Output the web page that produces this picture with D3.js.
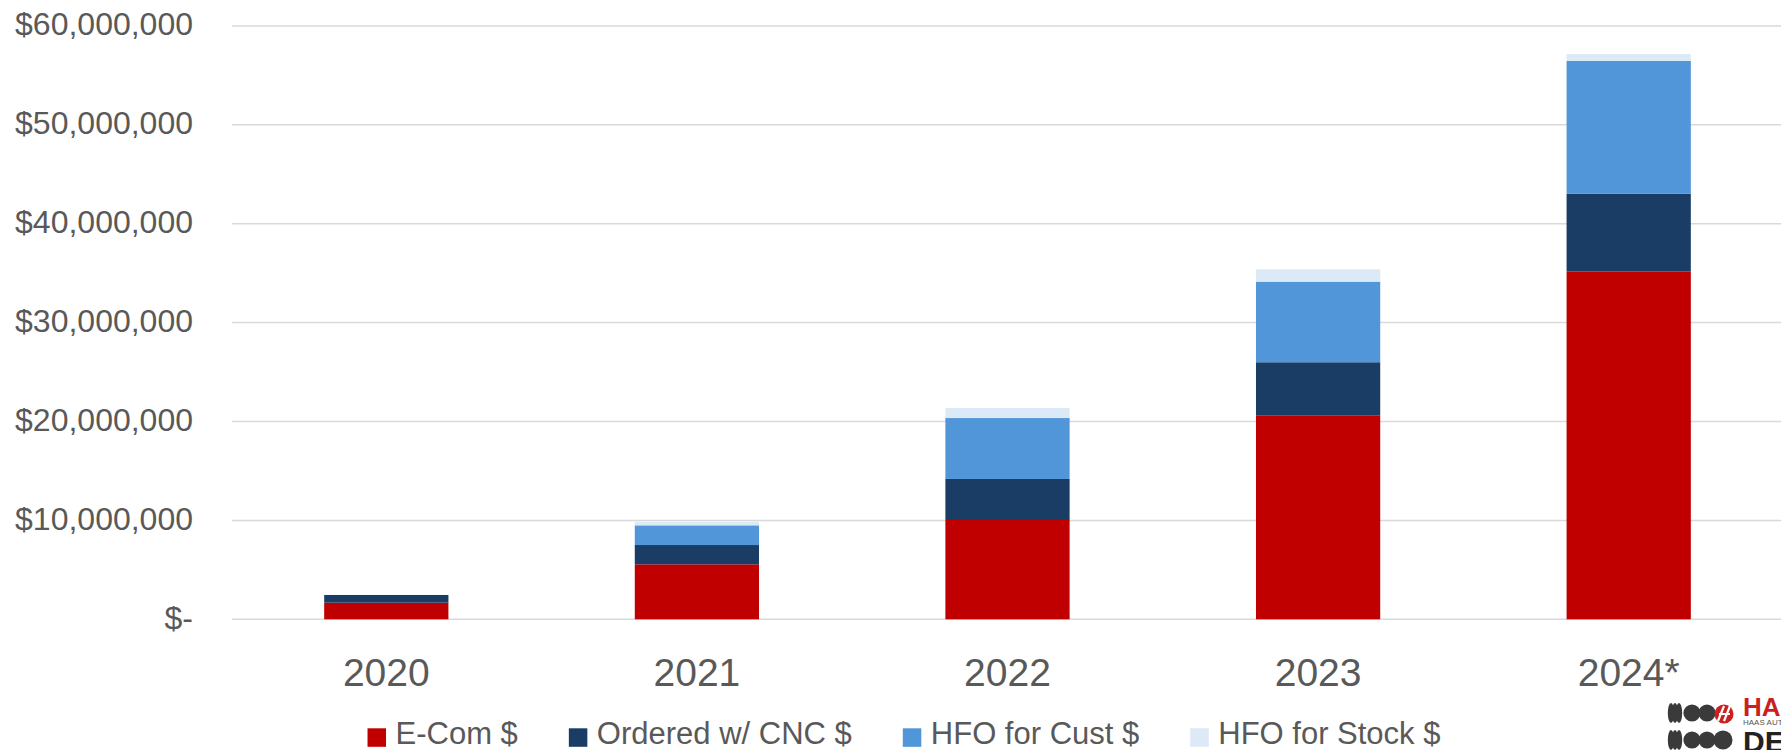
<!DOCTYPE html>
<html>
<head>
<meta charset="utf-8">
<script src="https://cdn.jsdelivr.net/npm/d3@7"></script>
<style>
  html, body { margin: 0; padding: 0; background: #fff; }
  svg { display: block; font-family: "Liberation Sans", Arial, sans-serif; }
</style>
</head>
<body>
<svg id="chart" width="1781" height="750"></svg>
<script>
// Yearly revenue by channel (USD)
const years    = ["2020", "2021", "2022", "2023", "2024*"];
const ecom     = [1680000, 5560000, 10040000, 20630000, 35150000];
const ordered  = [780000, 1950000, 4150000, 5360000, 7880000];
const hfoCust  = [0, 1990000, 6160000, 8150000, 13420000];
const hfoStock = [0, 370000, 1020000, 1250000, 710000];

const seriesNames = ["E-Com $", "Ordered w/ CNC $", "HFO for Cust $", "HFO for Stock $"];
const seriesKeys  = ["ecom", "ordered", "hfoCust", "hfoStock"];
const colors      = ["#C00000", "#193D64", "#5096D9", "#DCE9F6"];
const yTicks      = [0, 10000000, 20000000, 30000000, 40000000, 50000000, 60000000];

const rows = years.map((y, i) => ({
  year: y, ecom: ecom[i], ordered: ordered[i], hfoCust: hfoCust[i], hfoStock: hfoStock[i]
}));

const svg = d3.select("#chart");
const textColor = "#595959";

const x = d3.scaleBand().domain(years).range([231, 1784]).paddingInner(0.6).paddingOuter(0.3);
const y = d3.scaleLinear().domain([0, 60000000]).range([619.3, 25.9]);

const money = d3.format(",");
const tickLabel = v => v === 0 ? "$-" : "$" + money(v);

// horizontal gridlines
svg.append("g").selectAll("line").data(yTicks).join("line")
  .attr("x1", 232).attr("x2", 1781)
  .attr("y1", d => y(d)).attr("y2", d => y(d))
  .attr("stroke", "#d9d9d9").attr("stroke-width", 1.5);

// value axis labels
svg.append("g").selectAll("text").data(yTicks).join("text")
  .attr("x", 193).attr("y", d => y(d) + 9.5)
  .attr("text-anchor", "end")
  .attr("font-size", 32).attr("fill", textColor)
  .text(tickLabel);

// stacked bars
const stacked = d3.stack().keys(seriesKeys)(rows);
svg.append("g").selectAll("g").data(stacked).join("g")
  .attr("fill", (d, i) => colors[i])
  .selectAll("rect").data(d => d).join("rect")
  .attr("x", d => x(d.data.year))
  .attr("width", x.bandwidth())
  .attr("y", d => y(d[1]))
  .attr("height", d => Math.max(0, y(d[0]) - y(d[1])));

// category labels
svg.append("g").selectAll("text").data(years).join("text")
  .attr("x", d => x(d) + x.bandwidth() / 2)
  .attr("y", 686)
  .attr("text-anchor", "middle")
  .attr("font-size", 39).attr("fill", textColor)
  .text(d => d);

// legend, laid out left to right and centred
const legend = svg.append("g");
let cursor = 0;
seriesNames.forEach((name, i) => {
  const item = legend.append("g").attr("transform", `translate(${cursor},0)`);
  item.append("rect").attr("x", 0).attr("y", 728.3).attr("width", 18.5).attr("height", 18.5).attr("fill", colors[i]);
  const t = item.append("text").attr("x", 28).attr("y", 744)
    .attr("font-size", 31).attr("fill", textColor).text(name);
  cursor += 28 + t.node().getComputedTextLength() + 51;
});
const legendWidth = cursor - 51;
legend.attr("transform", `translate(${904 - legendWidth / 2},0)`);

// company logo in the bottom-right corner
const logo = svg.append("g");
[1671, 1675, 1679].forEach(cx => {
  [713, 740].forEach(cy => {
    logo.append("ellipse").attr("cx", cx).attr("cy", cy).attr("rx", 3.2).attr("ry", 10).attr("fill", "#3a3a3a");
  });
});
[1692, 1707].forEach(cx => {
  [713, 740].forEach(cy => {
    logo.append("circle").attr("cx", cx).attr("cy", cy).attr("r", 8.6).attr("fill", "#3a3a3a");
  });
});
logo.append("circle").attr("cx", 1723).attr("cy", 740).attr("r", 9.5).attr("fill", "#3a3a3a");
logo.append("circle").attr("cx", 1724).attr("cy", 714).attr("r", 9.5).attr("fill", "#cc1f1f");
logo.append("path").attr("d", "M1718,721 L1724,706 M1724,721 L1730,706 M1719,714 L1730,714")
  .attr("stroke", "#fff").attr("stroke-width", 2.2).attr("fill", "none");
logo.append("text").attr("x", 1743).attr("y", 716).attr("font-size", 26).attr("font-weight", "bold")
  .attr("fill", "#cc1f1f").text("HAAS");
logo.append("text").attr("x", 1743).attr("y", 725).attr("font-size", 8).attr("fill", "#555").text("HAAS AUTOMATION");
logo.append("text").attr("x", 1743).attr("y", 752).attr("font-size", 30).attr("font-weight", "bold")
  .attr("fill", "#222").text("DE");
</script>
</body>
</html>
